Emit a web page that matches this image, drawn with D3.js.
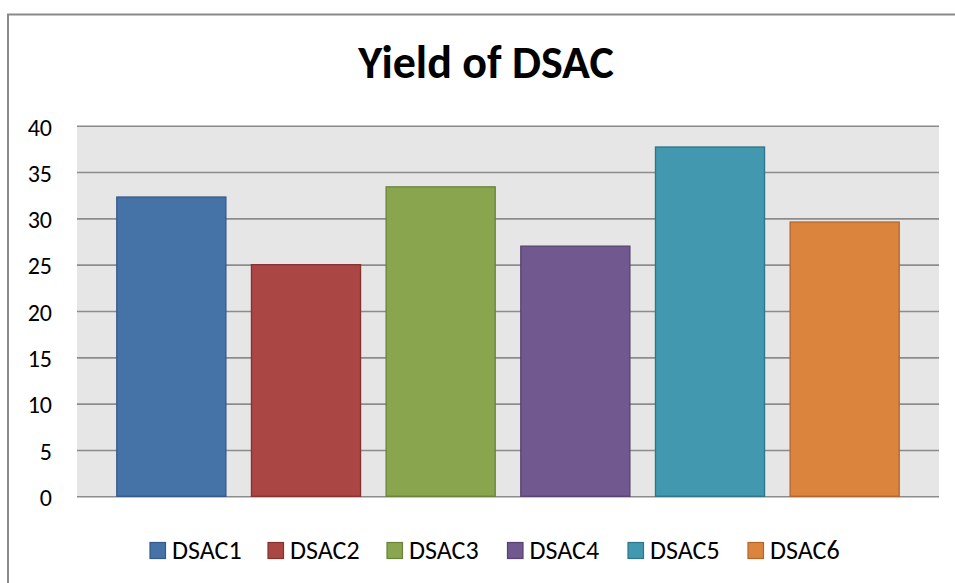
<!DOCTYPE html>
<html>
<head>
<meta charset="utf-8">
<script src="https://cdn.jsdelivr.net/npm/d3@7"></script>
<style>
  html, body { margin: 0; padding: 0; background: #fff; }
  svg { display: block; }
</style>
</head>
<body>
<svg id="chart" width="955" height="583"></svg>
<script>
// Yield of each DSAC sample
const categories = ["DSAC1", "DSAC2", "DSAC3", "DSAC4", "DSAC5", "DSAC6"];
const values = [32.3, 25.0, 33.4, 27.0, 37.7, 29.6];
const yTicks = [0, 5, 10, 15, 20, 25, 30, 35, 40];
const fills = ["#4572A7", "#AA4643", "#89A54E", "#71588F", "#4198AF", "#DB843D"];
const strokes = ["#35598A", "#85322F", "#6A823A", "#574370", "#2F7488", "#B4652A"];
const title = "Yield of DSAC";

const svg = d3.select("#chart");
const font = "Carlito, Calibri, 'Open Sans', sans-serif";

// outer chart frame
svg.append("rect")
  .attr("x", 8).attr("y", 14.5)
  .attr("width", 960).attr("height", 600)
  .attr("fill", "#fff").attr("stroke", "#8a8a8a").attr("stroke-width", 2);

const plot = { left: 77, right: 939, top: 125.7, bottom: 496.3 };

const y = d3.scaleLinear().domain([0, 40]).range([plot.bottom, plot.top]);
const cx = (plot.left + plot.right) / 2;
const x = d3.scaleBand().domain(categories)
  .range([cx - 404, cx + 404])
  .paddingInner(0.19).paddingOuter(0.095);

// plot background
svg.append("rect")
  .attr("x", plot.left).attr("y", plot.top)
  .attr("width", plot.right - plot.left).attr("height", plot.bottom - plot.top)
  .attr("fill", "#E6E6E6");

// gridlines and value labels
const yAxis = d3.axisLeft(y).tickValues(yTicks)
  .tickSize(-(plot.right - plot.left)).tickPadding(25).tickFormat(d3.format("d"));
const gAxis = svg.append("g").attr("transform", `translate(${plot.left},0)`).call(yAxis);
gAxis.select(".domain").remove();
gAxis.selectAll(".tick line").attr("stroke", "#8c8c8c").attr("stroke-width", 1.6);
gAxis.selectAll(".tick text")
  .attr("fill", "#000").attr("font-family", font).attr("font-size", 24)
  .attr("dy", "9.3px");

// bars
svg.append("g").selectAll("rect").data(values).join("rect")
  .attr("x", (d, i) => x(categories[i]))
  .attr("y", d => y(d))
  .attr("width", x.bandwidth())
  .attr("height", d => y(0) - y(d))
  .attr("fill", (d, i) => fills[i])
  .attr("stroke", (d, i) => strokes[i])
  .attr("stroke-width", 1.3);

// title
svg.append("text")
  .attr("x", 486).attr("y", 77.5)
  .attr("text-anchor", "middle")
  .attr("font-family", font).attr("font-weight", "bold").attr("font-size", 46)
  .attr("fill", "#000").text(title);

// legend
const legendX = [150, 268, 387, 507.5, 628, 748];
const lg = svg.append("g").selectAll("g").data(categories).join("g")
  .attr("transform", (d, i) => `translate(${legendX[i]},542.5)`);
lg.append("rect").attr("width", 15.5).attr("height", 16)
  .attr("fill", (d, i) => fills[i]).attr("stroke", (d, i) => strokes[i]).attr("stroke-width", 1.2);
lg.append("text").attr("x", 22).attr("y", 16)
  .attr("font-family", font).attr("font-size", 26).attr("fill", "#000")
  .text(d => d);
</script>
</body>
</html>
